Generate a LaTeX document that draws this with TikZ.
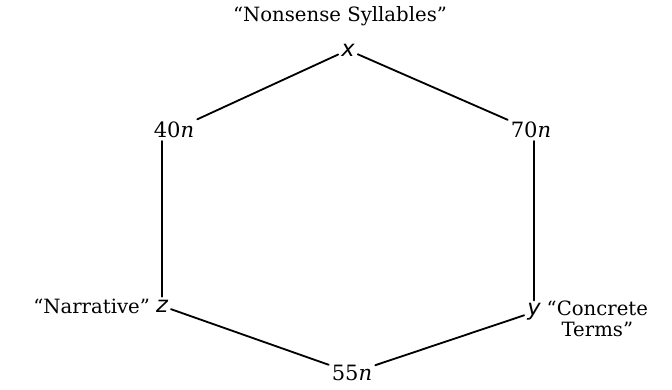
\documentclass[tikz,border=0pt]{standalone}
\usepackage{fontspec}
\setmainfont{DejaVu Serif}
\setsansfont{DejaVu Sans}
\usetikzlibrary{positioning}

\begin{document}
\begin{tikzpicture}[x=0.025cm,y=-0.025cm]
\tikzset{
  vertexnode/.style={inner sep=2pt,font=\fontsize{15}{17}\selectfont},
  varnode/.style={vertexnode,font=\fontsize{16}{18}\selectfont\sffamily\itshape},
  tagnode/.style={inner sep=1pt,font=\fontsize{14}{15}\selectfont,align=center},
  hexedge/.style={draw=black,line width=1.3pt,line cap=round,line join=round}
}
\useasboundingbox (0,0) rectangle (672,389);
\node[varnode] (n_x) at (348,50) {x};
\node[vertexnode] (n_40) at (174,130) {40\textit{n}};
\node[vertexnode] (n_70) at (531,130) {70\textit{n}};
\node[varnode] (n_z) at (162,306) {z};
\node[varnode] (n_y) at (534,312) {y};
\node[vertexnode] (n_55) at (352,373) {55\textit{n}};
\node[tagnode] (t_x) at (340,16) {``Nonsense Syllables''};
\node[tagnode,left=1pt of n_z] (t_z) {``Narrative''};
\node[tagnode,anchor=north west] (t_y) at (545,299) {``Concrete\\Terms''};
\draw[hexedge] (n_x) -- (n_40);
\draw[hexedge] (n_x) -- (n_70);
\draw[hexedge] (n_40.south -| n_z) -- (n_z.north);
\draw[hexedge] (n_70.south -| n_y) -- (n_y.north);
\draw[hexedge] (n_z) -- (n_55);
\draw[hexedge] (n_55) -- (n_y);
\end{tikzpicture}
\end{document}
